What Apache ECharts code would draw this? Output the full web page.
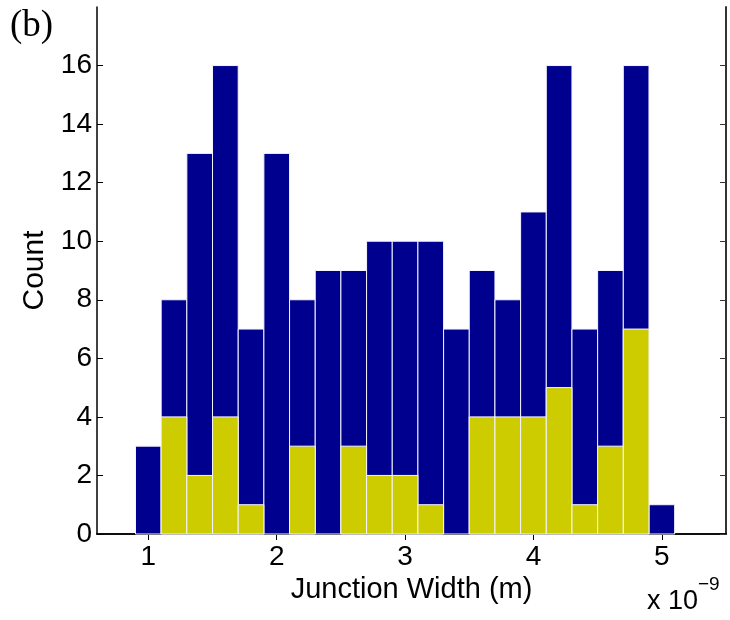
<!DOCTYPE html>
<html>
<head>
<meta charset="utf-8">
<script src="https://cdn.jsdelivr.net/npm/echarts@6/dist/echarts.min.js"></script>
<style>
  html, body { margin: 0; padding: 0; background: #fff; }
  #chart { width: 730px; height: 620px; }
</style>
</head>
<body>
<div id="chart"></div>
<script>
// Bin centres of the junction-width histogram (units of 1e-9 m)
const binCenters = [1.0, 1.2, 1.4, 1.6, 1.8, 2.0, 2.2, 2.4, 2.6, 2.8, 3.0,
                    3.2, 3.4, 3.6, 3.8, 4.0, 4.2, 4.4, 4.6, 4.8, 5.0];
// Counts for all junctions (navy) and for the subset (yellow)
const countsAll    = [3, 8, 13, 16, 7, 13, 8, 9, 9, 10, 10, 10, 7, 9, 8, 11, 16, 7, 9, 16, 1];
const countsSubset = [0, 4, 2, 4, 1, 0, 3, 0, 3, 2, 2, 1, 0, 4, 4, 4, 5, 1, 3, 7, 0];
const binWidth = 0.2;

// Axis ticks
const xTicks = [1, 2, 3, 4, 5];
const yTicks = [0, 2, 4, 6, 8, 10, 12, 14, 16];

const FONT = '"Liberation Sans", Arial, Helvetica, sans-serif';

// One histogram bar per bin, spanning the bin edges on the value axis
function histRender(color) {
  return function (params, api) {
    const x = api.value(0);
    const y = api.value(1);
    if (y <= 0) return null;
    const p0 = api.coord([x - binWidth / 2, 0]);
    const p1 = api.coord([x + binWidth / 2, y]);
    return {
      type: 'rect',
      shape: { x: p0[0], y: p1[1], width: p1[0] - p0[0], height: p0[1] - p1[1] },
      style: { fill: color, stroke: '#f4f4ff', lineWidth: 1 }
    };
  };
}

const chart = echarts.init(document.getElementById('chart'), null, { renderer: 'canvas' });

const tickText = { color: '#000', fontFamily: FONT, fontSize: 28 };
const nameText = { color: '#000', fontFamily: FONT, fontSize: 29 };

chart.setOption({
  animation: false,
  backgroundColor: '#ffffff',
  grid: { left: 97, right: 4, top: 7, bottom: 86, containLabel: false },
  xAxis: [
    {
      type: 'value', min: 0.6, max: 5.5, position: 'bottom',
      axisLine: { show: true, lineStyle: { color: '#000', width: 1.5 } },
      axisTick: { show: true, inside: true, length: 6, customValues: xTicks, lineStyle: { color: '#000' } },
      axisLabel: { show: true, customValues: xTicks, margin: 9, ...tickText },
      splitLine: { show: false },
      name: 'Junction Width (m)', nameLocation: 'middle', nameGap: 33,
      nameTextStyle: { ...nameText }
    },
    {
      type: 'value', min: 0.6, max: 5.5, position: 'top',
      axisLine: { show: true, lineStyle: { color: '#000', width: 1.5 } },
      axisTick: { show: true, inside: true, length: 6, customValues: xTicks, lineStyle: { color: '#000' } },
      axisLabel: { show: false },
      splitLine: { show: false }
    }
  ],
  yAxis: [
    {
      type: 'value', min: 0, max: 18, position: 'left',
      axisLine: { show: true, lineStyle: { color: '#000', width: 1.5 } },
      axisTick: { show: true, inside: true, length: 6, customValues: yTicks, lineStyle: { color: '#000' } },
      axisLabel: { show: true, customValues: yTicks, margin: 5, ...tickText },
      splitLine: { show: false },
      name: 'Count', nameLocation: 'middle', nameGap: 46, nameRotate: 90,
      nameTextStyle: { ...nameText, fontSize: 30 }
    },
    {
      type: 'value', min: 0, max: 18, position: 'right',
      axisLine: { show: true, lineStyle: { color: '#333', width: 2 } },
      axisTick: { show: true, inside: true, length: 6, customValues: yTicks, lineStyle: { color: '#333' } },
      axisLabel: { show: false },
      splitLine: { show: false }
    }
  ],
  series: [
    {
      name: 'All', type: 'custom', xAxisIndex: 0, yAxisIndex: 0, z: 3,
      renderItem: histRender('#00008f'),
      data: binCenters.map((c, i) => [c, countsAll[i]])
    },
    {
      name: 'Subset', type: 'custom', xAxisIndex: 0, yAxisIndex: 0, z: 4,
      renderItem: histRender('#cccc00'),
      data: binCenters.map((c, i) => [c, countsSubset[i]])
    }
  ],
  graphic: [
    {
      type: 'text', left: 10, top: 8,
      style: { text: '(b)', font: '37px "Liberation Serif", "Times New Roman", serif', fill: '#000' }
    },
    {
      type: 'text', left: 647, top: 588,
      style: { text: 'x 10', font: '27px ' + FONT, fill: '#000' }
    },
    {
      type: 'text', left: 698, top: 575,
      style: { text: '\u22129', font: '19px ' + FONT, fill: '#000' }
    }
  ]
});
</script>
</body>
</html>
